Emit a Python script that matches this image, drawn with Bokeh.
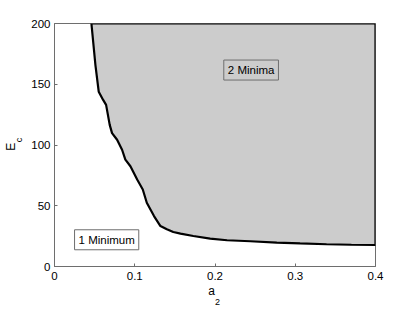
from bokeh.plotting import figure
from bokeh.models import Label, FixedTicker, Range1d, LinearAxis
from bokeh.embed import file_html
from bokeh.resources import INLINE

# boundary between 1 minimum and 2 minima regions
a2 = [0.046, 0.051, 0.0551, 0.0606, 0.0643, 0.0688, 0.0717, 0.078, 0.0842, 0.0883,
      0.0946, 0.103, 0.110, 0.115, 0.124, 0.132, 0.140, 0.148, 0.157, 0.173,
      0.194, 0.215, 0.244, 0.277, 0.306, 0.339, 0.370, 0.4]
Ec = [200, 165.8, 143.9, 137.1, 133.0, 116.6, 109.8, 104.3, 96.1, 88.0,
      82.5, 71.6, 63.4, 52.5, 41.5, 33.3, 30.6, 28.4, 27.0, 25.1,
      23.0, 21.6, 20.8, 19.7, 19.0, 18.3, 17.9, 17.7]

x_ticks = [0, 0.1, 0.2, 0.3, 0.4]
x_tick_labels = ["0", "0.1", "0.2", "0.3", "0.4"]
y_ticks = [0, 50, 100, 150, 200]
y_tick_labels = ["0", "50", "100", "150", "200"]

region_labels = ["1 Minimum", "2 Minima"]
region_x = [0.065, 0.245]
region_y = [22, 161.7]

FONT = "Liberation Sans"
AX = "#6e6e6e"
NB = "\u00a0"

p = figure(width=415, height=309, output_backend="svg", toolbar_location=None,
           x_range=Range1d(0, 0.4), y_range=Range1d(0, 200),
           min_border_left=54, min_border_right=40, min_border_top=23, min_border_bottom=42)
p.grid.visible = False
p.outline_line_color = AX
p.outline_line_width = 1
p.background_fill_color = "white"
p.border_fill_color = "white"

for ax, ticks, labels in [(p.xaxis[0], x_ticks, x_tick_labels), (p.yaxis[0], y_ticks, y_tick_labels)]:
    ax.ticker = FixedTicker(ticks=ticks)
    ax.major_label_overrides = {t: l for t, l in zip(ticks, labels)}
    ax.minor_tick_line_color = None
    ax.major_tick_in = 3
    ax.major_tick_out = 0
    ax.axis_line_color = AX
    ax.major_tick_line_color = AX
    ax.major_label_text_font = FONT
    ax.major_label_text_font_size = "11.5px"
    ax.major_label_text_color = "black"
p.xaxis.major_label_standoff = 5
p.yaxis.major_label_standoff = 4

# shaded region: boundary curve, then up the right edge and along the top
px = a2 + [a2[-1], a2[0]]
py = Ec + [200, 200]
p.patch(px, py, fill_color="#cccccc", line_color="black", line_width=2.2)

for txt, x, y, bg in zip(region_labels, region_x, region_y, ["white", "#cccccc"]):
    p.add_layout(Label(x=x, y=y, text=txt, text_align="center", text_baseline="middle",
                       text_font=FONT, text_font_size="11.5px", text_color="black",
                       border_line_color=AX, border_line_width=1,
                       background_fill_color=bg, padding=4))


def title_axis(text, size, standoff, place):
    ax = LinearAxis(ticker=FixedTicker(ticks=[]),
                    axis_line_color=None, major_tick_line_color=None, minor_tick_line_color=None,
                    major_tick_in=0, major_tick_out=0, minor_tick_in=0, minor_tick_out=0,
                    major_label_standoff=0,
                    axis_label=text, axis_label_text_font=FONT, axis_label_text_font_size=size,
                    axis_label_text_font_style="normal", axis_label_text_color="black",
                    axis_label_standoff=standoff)
    p.add_layout(ax, place)


# axis titles with subscripts: a_2 and E_c
title_axis("a" + NB * 2, "12px", 1, "below")
title_axis(NB * 2 + "2", "9px", -4, "below")
title_axis(NB * 4 + "c", "9px", 5, "left")
title_axis("E" + NB, "12px", -7, "left")

open("out.html", "w").write(file_html(p, INLINE))
